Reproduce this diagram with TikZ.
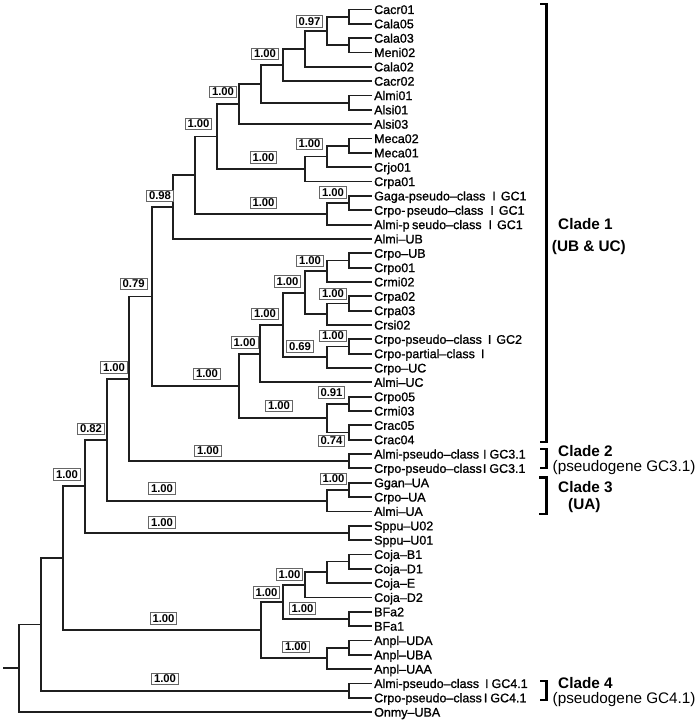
\documentclass[tikz,border=0pt]{standalone}
\usepackage{fontspec}
\setmainfont{Liberation Sans}
\newfontfamily\leaffont{Liberation Sans}[FakeBold=1]
\usetikzlibrary{calc}
\tikzset{
  branch/.style={line width=1.8pt, draw=black!88},
  leaf/.style={anchor=west, inner xsep=2pt, inner ysep=0pt, text height=8.95pt, text depth=0pt, font=\leaffont\fontsize{12.5}{14}\selectfont},
  sup/.style={draw=black!60, line width=0.8pt, fill=white, inner sep=0pt, minimum width=26.5pt, minimum height=11.7pt, font=\fontsize{11.3}{12}\selectfont\bfseries},
  cladebr/.style={line width=2.2pt, draw=black},
  cladename/.style={anchor=base west, inner sep=0pt, font=\fontsize{15.3}{17}\selectfont\bfseries},
  cladesub/.style={anchor=base west, inner sep=0pt, font=\fontsize{15.3}{17}\selectfont},
}
\newcommand\tjoin[4]{%
  \path let \p1=($(#3)!0.5!(#4)$) in coordinate (#1) at (#2pt,\y1);
  \draw[branch] (#1) |- (#3);
  \draw[branch] (#1) |- (#4);
}
\begin{document}
\begin{tikzpicture}[x=1pt,y=-1pt]
\useasboundingbox[fill=white] (0,0) rectangle (700,722);
% leaves
\node[leaf] (L1) at (372,9.5) {Cacr01};
\node[leaf] (L2) at (372,23.84) {Cala05};
\node[leaf] (L3) at (372,38.18) {Cala03};
\node[leaf] (L4) at (372,52.52) {Meni02};
\node[leaf] (L5) at (372,66.86) {Cala02};
\node[leaf] (L6) at (372,81.2) {Cacr02};
\node[leaf] (L7) at (372,95.54) {Almi01};
\node[leaf] (L8) at (372,109.88) {Alsi01};
\node[leaf] (L9) at (372,124.22) {Alsi03};
\node[leaf] (L10) at (372,138.56) {Meca02};
\node[leaf] (L11) at (372,152.9) {Meca01};
\node[leaf] (L12) at (372,167.24) {Crjo01};
\node[leaf] (L13) at (372,181.58) {Crpa01};
\node[leaf] (L14) at (372,195.92) {Gaga-pseudo–class\hspace{7pt}I\hspace{5pt}GC1};
\node[leaf] (L15) at (372,210.26) {Crpo-\hspace{1.5pt}pseudo–class\hspace{7pt}I\hspace{5pt}GC1};
\node[leaf] (L16) at (372,224.6) {Almi-p\hspace{2.5pt}seudo–class\hspace{7pt}I\hspace{5pt}GC1};
\node[leaf] (L17) at (372,238.94) {Almi–UB};
\node[leaf] (L18) at (372,253.28) {Crpo–UB};
\node[leaf] (L19) at (372,267.62) {Crpo01};
\node[leaf] (L20) at (372,281.96) {Crmi02};
\node[leaf] (L21) at (372,296.3) {Crpa02};
\node[leaf] (L22) at (372,310.64) {Crpa03};
\node[leaf] (L23) at (372,324.98) {Crsi02};
\node[leaf] (L24) at (372,339.32) {Crpo-pseudo–class\hspace{6pt}I\hspace{5pt}GC2};
\node[leaf] (L25) at (372,353.66) {Crpo-partial–class\hspace{6pt}I};
\node[leaf] (L26) at (372,368.0) {Crpo–UC};
\node[leaf] (L27) at (372,382.34) {Almi–UC};
\node[leaf] (L28) at (372,396.68) {Crpo05};
\node[leaf] (L29) at (372,411.02) {Crmi03};
\node[leaf] (L30) at (372,425.36) {Crac05};
\node[leaf] (L31) at (372,439.7) {Crac04};
\node[leaf] (L32) at (372,454.04) {Almi-pseudo–class\hspace{4pt}I\hspace{3pt}GC3.1};
\node[leaf] (L33) at (372,468.38) {Crpo-pseudo–class\hspace{1pt}I\hspace{3pt}GC3.1};
\node[leaf] (L34) at (372,482.72) {Ggan–UA};
\node[leaf] (L35) at (372,497.06) {Crpo–UA};
\node[leaf] (L36) at (372,511.4) {Almi–UA};
\node[leaf] (L37) at (372,525.74) {Sppu–U02};
\node[leaf] (L38) at (372,540.08) {Sppu–U01};
\node[leaf] (L39) at (372,554.42) {Coja–B1};
\node[leaf] (L40) at (372,568.76) {Coja–D1};
\node[leaf] (L41) at (372,583.1) {Coja–E};
\node[leaf] (L42) at (372,597.44) {Coja–D2};
\node[leaf] (L43) at (372,611.78) {BFa2};
\node[leaf] (L44) at (372,626.12) {BFa1};
\node[leaf] (L45) at (372,640.46) {Anpl–UDA};
\node[leaf] (L46) at (372,654.8) {Anpl–UBA};
\node[leaf] (L47) at (372,669.14) {Anpl–UAA};
\node[leaf] (L48) at (372,683.48) {Almi-pseudo–class\hspace{6pt}I\hspace{3pt}GC4.1};
\node[leaf] (L49) at (372,697.82) {Crpo-pseudo–class\hspace{2pt}I\hspace{3pt}GC4.1};
\node[leaf] (L50) at (372,712.16) {Onmy–UBA};
% clade 1, upper part
\tjoin{n1}{349}{L1}{L2}
\tjoin{n2}{349}{L3}{L4}
\tjoin{n3}{327}{n1}{n2}
\tjoin{n4}{305}{n3}{L5}
\tjoin{n5}{283}{n4}{L6}
\tjoin{n6}{349}{L7}{L8}
\tjoin{n7}{261}{n5}{n6}
\tjoin{n8}{239}{n7}{L9}
\tjoin{n9}{349}{L10}{L11}
\tjoin{n10}{327}{n9}{L12}
\tjoin{n11}{305}{n10}{L13}
\tjoin{n12}{217}{n8}{n11}
\tjoin{n13}{349}{L14}{L15}
\tjoin{n14}{327}{n13}{L16}
\tjoin{n15}{195}{n12}{n14}
\tjoin{n16}{173}{n15}{L17}
% clade 1, lower part
\tjoin{m1}{349}{L18}{L19}
\tjoin{m2}{327}{m1}{L20}
\tjoin{m3}{349}{L21}{L22}
\tjoin{m4}{327}{m3}{L23}
\tjoin{m5}{305}{m2}{m4}
\tjoin{m6}{349}{L24}{L25}
\tjoin{m7}{327}{m6}{L26}
\tjoin{m8}{283}{m5}{m7}
\tjoin{m9}{260}{m8}{L27}
\tjoin{m10}{349}{L28}{L29}
\tjoin{m11}{349}{L30}{L31}
\tjoin{m12}{327}{m10}{m11}
\tjoin{m13}{239}{m9}{m12}
\tjoin{a152}{152}{n16}{m13}
% clades 2, 3 and the rest
\tjoin{c2}{349}{L32}{L33}
\tjoin{a129}{129}{a152}{c2}
\tjoin{c3a}{349}{L34}{L35}
\tjoin{c3}{327}{c3a}{L36}
\tjoin{a107}{107}{a129}{c3}
\tjoin{sp}{349}{L37}{L38}
\tjoin{a85}{85}{a107}{sp}
\tjoin{k1}{349}{L39}{L40}
\tjoin{k2}{327}{k1}{L41}
\tjoin{k3}{305}{k2}{L42}
\tjoin{k4}{349}{L43}{L44}
\tjoin{k5}{283}{k3}{k4}
\tjoin{k6}{349}{L45}{L46}
\tjoin{k7}{327}{k6}{L47}
\tjoin{k8}{261}{k5}{k7}
\tjoin{a63}{63}{a85}{k8}
\tjoin{c4}{349}{L48}{L49}
\tjoin{a41}{41}{a63}{c4}
\tjoin{root}{19}{a41}{L50}
\path let \p1=(root) in coordinate (stub) at (3pt,\y1);
\draw[branch] (stub) -- (root);
% support values
\node[sup] (s1) at (309.5,21.5) {0.97};
\node[sup] (s2) at (265,54) {1.00};
\node[sup] (s3) at (223,92) {1.00};
\node[sup] (s4) at (198.5,124) {1.00};
\node[sup] (s5) at (309.5,144) {1.00};
\node[sup] (s6) at (263.5,157.5) {1.00};
\node[sup] (s7) at (333,192.5) {1.00};
\node[sup] (s8) at (263.5,203) {1.00};
\node[sup] (s9) at (160,196) {0.98};
\node[sup] (s10) at (310,261) {1.00};
\node[sup] (s11) at (333,294) {1.00};
\node[sup] (s12) at (287.5,281.7) {1.00};
\node[sup] (s13) at (333,336) {1.00};
\node[sup] (s14) at (300,346.7) {0.69};
\node[sup] (s15) at (265,314) {1.00};
\node[sup] (s16) at (244.7,342.5) {1.00};
\node[sup] (s17) at (331.5,392.5) {0.91};
\node[sup] (s18) at (331.5,441) {0.74};
\node[sup] (s19) at (279,406) {1.00};
\node[sup] (s20) at (207,374) {1.00};
\node[sup] (s21) at (133.7,284) {0.79};
\node[sup] (s22) at (208,451) {1.00};
\node[sup] (s23) at (333.5,479) {1.00};
\node[sup] (s24) at (162,488.5) {1.00};
\node[sup] (s25) at (114,367.5) {1.00};
\node[sup] (s26) at (91,429) {0.82};
\node[sup] (s27) at (162,522.5) {1.00};
\node[sup] (s28) at (67,474.5) {1.00};
\node[sup] (s29) at (289.5,574.5) {1.00};
\node[sup] (s30) at (302.5,608.5) {1.00};
\node[sup] (s31) at (266.5,592.5) {1.00};
\node[sup] (s32) at (296,647) {1.00};
\node[sup] (s33) at (163.5,618.5) {1.00};
\node[sup] (s34) at (165,679) {1.00};
% clade brackets
\draw[cladebr] (540,4) -- (546.5,4) -- (546.5,441.7) -- (540,441.7);
\draw[cladebr] (540,449.3) -- (546.5,449.3) -- (546.5,468.3) -- (540,468.3);
\draw[cladebr] (539,477.5) -- (546.5,477.5) -- (546.5,514) -- (539,514);
\draw[cladebr] (540,681) -- (546.5,681) -- (546.5,700) -- (540,700);
% clade names
\node[cladename] (t1) at (558,229.4) {Clade 1};
\node[cladename] (t1b) at (551.7,251.7) {(UB \& UC)};
\node[cladename] (t2) at (558,456) {Clade 2};
\node[cladesub] (t2b) at (552.5,471.5) {(pseudogene GC3.1)};
\node[cladename] (t3) at (558,492) {Clade 3};
\node[cladename] (t3b) at (568,509.5) {(UA)};
\node[cladename] (t4) at (558,688) {Clade 4};
\node[cladesub] (t4b) at (552.5,703) {(pseudogene GC4.1)};
\end{tikzpicture}
\end{document}
